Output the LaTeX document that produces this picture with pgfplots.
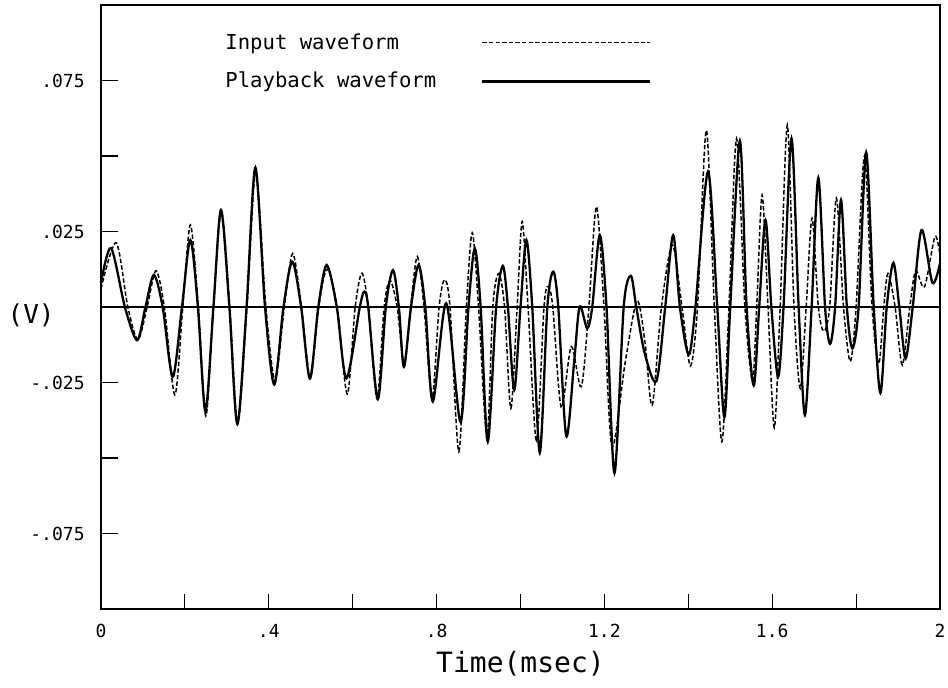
\documentclass[border=0pt]{standalone}
\usepackage{pgfplots}
\pgfplotsset{compat=1.18}
\usepackage{fontspec}
\newfontfamily\plotfont{DejaVu Sans Mono}

\pgfplotstableread{
x y
0.000 0.0060
0.036 0.0213
0.064 0.0000
0.088 -0.0108
0.110 0.0000
0.131 0.0120
0.151 0.0000
0.176 -0.0291
0.195 0.0000
0.213 0.0272
0.232 0.0000
0.250 -0.0361
0.268 0.0000
0.287 0.0318
0.307 0.0000
0.326 -0.0388
0.348 0.0000
0.369 0.0445
0.393 0.0000
0.415 -0.0243
0.437 0.0000
0.457 0.0177
0.478 0.0000
0.499 -0.0234
0.519 0.0000
0.539 0.0125
0.563 0.0000
0.587 -0.0288
0.606 0.0000
0.622 0.0112
0.637 0.0000
0.658 -0.0303
0.675 0.0000
0.689 0.0088
0.706 0.0000
0.723 -0.0192
0.738 0.0000
0.754 0.0167
0.770 0.0000
0.789 -0.0302
0.806 0.0000
0.819 0.0090
0.832 0.0000
0.853 -0.0479
0.871 0.0000
0.885 0.0246
0.900 0.0000
0.920 -0.0432
0.934 0.0000
0.948 0.0111
0.962 0.0000
0.977 -0.0336
0.992 0.0000
1.004 0.0283
1.018 0.0000
1.038 -0.0442
1.056 0.0000
1.066 0.0067
1.077 0.0000
1.097 -0.0332
1.121 -0.0131
1.145 -0.0264
1.163 0.0000
1.181 0.0332
1.199 0.0000
1.218 -0.0462
1.250 -0.0180
1.278 0.0020
1.297 -0.0120
1.314 -0.0325
1.336 0.0000
1.362 0.0205
1.385 0.0000
1.405 -0.0195
1.422 0.0000
1.443 0.0585
1.462 0.0000
1.480 -0.0446
1.497 0.0000
1.515 0.0558
1.535 0.0000
1.553 -0.0245
1.563 0.0000
1.576 0.0371
1.590 0.0000
1.605 -0.0400
1.619 0.0000
1.636 0.0603
1.652 0.0000
1.667 -0.0270
1.681 0.0000
1.695 0.0294
1.710 0.0000
1.723 -0.0080
1.737 0.0000
1.753 0.0360
1.770 0.0000
1.786 -0.0180
1.800 0.0000
1.820 0.0500
1.838 0.0000
1.854 -0.0188
1.866 0.0000
1.876 0.0111
1.893 0.0000
1.910 -0.0192
1.928 0.0000
1.942 0.0120
1.963 0.0067
1.988 0.0233
2.000 0.0170
}\inputwave

\pgfplotstableread{
x y
0.000 0.0080
0.024 0.0195
0.057 0.0000
0.086 -0.0110
0.106 0.0000
0.126 0.0106
0.147 0.0000
0.171 -0.0231
0.193 0.0000
0.213 0.0222
0.231 0.0000
0.249 -0.0345
0.268 0.0000
0.286 0.0321
0.306 0.0000
0.325 -0.0387
0.347 0.0000
0.368 0.0462
0.391 0.0000
0.413 -0.0257
0.435 0.0000
0.456 0.0150
0.477 0.0000
0.498 -0.0237
0.518 0.0000
0.538 0.0139
0.562 0.0000
0.585 -0.0236
0.617 0.0000
0.628 0.0051
0.637 0.0000
0.660 -0.0305
0.679 0.0000
0.696 0.0122
0.710 0.0000
0.722 -0.0198
0.739 0.0000
0.757 0.0139
0.773 0.0000
0.791 -0.0313
0.823 0.0012
0.857 -0.0380
0.876 0.0000
0.891 0.0194
0.905 0.0000
0.922 -0.0446
0.942 0.0000
0.958 0.0136
0.970 0.0000
0.985 -0.0275
1.000 0.0000
1.014 0.0222
1.028 0.0000
1.046 -0.0482
1.064 0.0000
1.078 0.0117
1.090 0.0000
1.109 -0.0427
1.128 -0.0180
1.141 0.0001
1.159 -0.0071
1.171 0.0000
1.189 0.0238
1.205 0.0000
1.224 -0.0550
1.246 0.0000
1.263 0.0103
1.276 0.0000
1.296 -0.0153
1.324 -0.0245
1.345 0.0000
1.364 0.0238
1.380 0.0000
1.401 -0.0158
1.417 0.0000
1.447 0.0448
1.469 0.0000
1.486 -0.0365
1.500 0.0000
1.523 0.0550
1.539 0.0000
1.556 -0.0260
1.569 0.0000
1.584 0.0288
1.598 0.0000
1.614 -0.0231
1.627 0.0000
1.646 0.0558
1.663 0.0000
1.678 -0.0358
1.694 0.0000
1.710 0.0428
1.726 0.0000
1.738 -0.0122
1.750 0.0000
1.764 0.0354
1.778 0.0000
1.791 -0.0137
1.806 0.0000
1.824 0.0512
1.842 0.0000
1.858 -0.0285
1.873 0.0000
1.889 0.0146
1.903 0.0000
1.918 -0.0170
1.935 0.0000
1.956 0.0255
1.982 0.0080
2.000 0.0145
}\playbackwave

\begin{document}
\begin{tikzpicture}
\begin{axis}[
  scale only axis, width=419.5pt, height=302pt,
  xmin=0, xmax=2, ymin=-0.1, ymax=0.1,
  axis line style={line width=0.6pt},
  tick pos=left, tick align=inside,
  xtick={0,0.4,0.8,1.2,1.6,2},
  xticklabels={0,.4,.8,1.2,1.6,2},
  ytick={-0.075,-0.025,0.025,0.075},
  yticklabels={-.075,-.025,.025,.075},
  major tick length=0pt,
  ticklabel style={font=\plotfont\fontsize{9}{10}\selectfont, inner sep=0pt},
  xticklabel style={anchor=base, yshift=-14.5pt},
  yticklabel style={anchor=east, xshift=-8pt},
  xlabel={Time(msec)}, ylabel={(V)},
  every axis x label/.style={at={(axis description cs:0.5,0)}, anchor=base, yshift=-32pt, inner sep=0pt, font=\plotfont\fontsize{14}{16}\selectfont},
  every axis y label/.style={at={(axis description cs:0,0.5)}, anchor=east, xshift=-23pt, yshift=-4pt, inner sep=0pt, font=\plotfont\fontsize{13}{15}\selectfont},
  legend plot pos=right,
  legend image code/.code={\draw[#1] (0pt,0pt) -- (84pt,0pt);},
  legend style={draw=none, fill=none, at={(axis description cs:0,1)}, anchor=north west, xshift=61pt, yshift=-13pt, inner sep=0pt, nodes={inner sep=1pt}, row sep=8pt, column sep=21.5pt, font=\plotfont\fontsize{10.3}{12}\selectfont},
  legend cell align=left,
  clip=false,
]
\addplot[black, line width=0.7pt, forget plot] coordinates {(0,0) (2,0)};
\addplot[black, line width=0.75pt, dash pattern=on 2.2pt off 1.1pt, smooth] table[x=x, y=y] {\inputwave};
\addlegendentry{Input waveform}
\addplot[black, line width=1.15pt, smooth] table[x=x, y=y] {\playbackwave};
\addlegendentry{Playback waveform}
\pgfplotsinvokeforeach{0.2,0.4,0.6,0.8,1.0,1.2,1.4,1.6,1.8}{
  \draw[black, line width=0.6pt] (axis cs:#1,-0.1) -- ++(0pt,7.5pt);
}
\pgfplotsinvokeforeach{-0.075,-0.05,-0.025,0.025,0.05,0.075}{
  \draw[black, line width=0.6pt] (axis cs:0,#1) -- ++(8.5pt,0pt);
}
\end{axis}
\pgfresetboundingbox
\path (current axis.south west) ++(-50.5pt,-39.5pt) rectangle ([shift={(4pt,2.5pt)}]current axis.north east);
\end{tikzpicture}
\end{document}
